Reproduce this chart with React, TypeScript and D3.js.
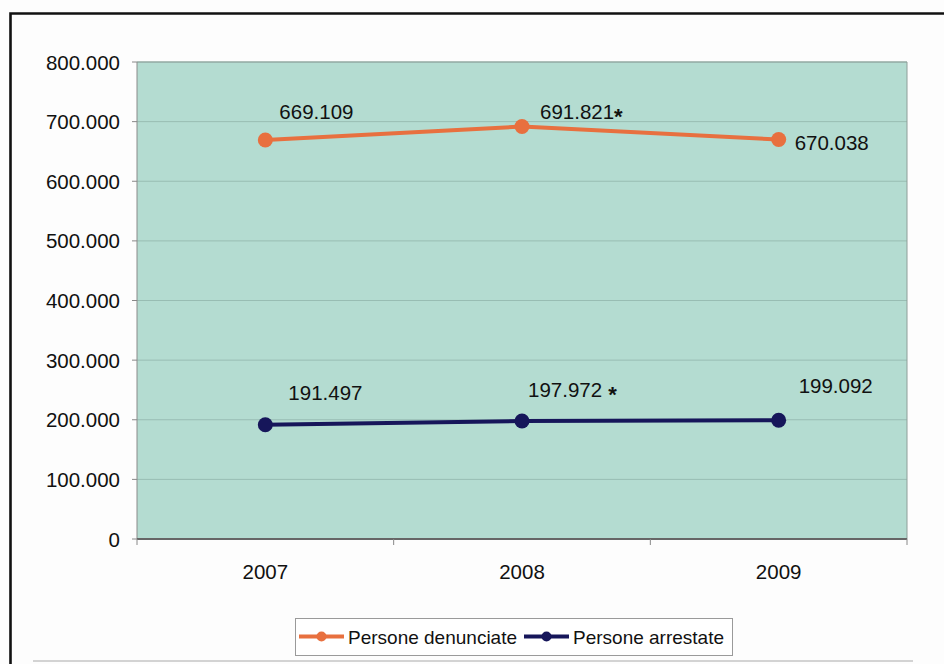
import React from "react";
import * as d3 from "d3";

// Categories and series
const years = ["2007", "2008", "2009"];
const denunciate = [669109, 691821, 670038];
const arrestate = [191497, 197972, 199092];
const yTicks = [0, 100000, 200000, 300000, 400000, 500000, 600000, 700000, 800000];
const seriesNames = ["Persone denunciate", "Persone arrestate"];
// footnote marks appended to the value labels
const denunciateMarks = ["", "*", ""];
const arrestateMarks = ["", " *", ""];

const W = 944;
const H = 664;
const plot = { left: 137, right: 907, top: 62, bottom: 539 };
const FONT = "'Liberation Sans', Arial, sans-serif";
const ORANGE = "#e8703f";
const NAVY = "#16165a";
const INK = "#111";

// label nudges (start x, baseline y) relative to each point
const denunciateNudge = [
  [14, -21],
  [18, -8],
  [16, 11],
];
const arrestateNudge = [
  [23, -25],
  [6, -24],
  [20, -27],
];

const itLocale = d3.formatLocale({
  decimal: ",",
  thousands: ".",
  grouping: [3],
  currency: ["€", ""],
});
const fmt = itLocale.format(",d");

export default function App() {
  const x = d3.scaleBand().domain(years).range([plot.left, plot.right]);
  const y = d3.scaleLinear().domain([0, 800000]).range([plot.bottom, plot.top]);
  const cx = (yr: string) => (x(yr) as number) + x.bandwidth() / 2;

  const line = d3
    .line<number>()
    .x((_, i) => cx(years[i]))
    .y((d) => y(d));

  const series = [
    { name: seriesNames[0], values: denunciate, color: ORANGE, nudge: denunciateNudge, marks: denunciateMarks },
    { name: seriesNames[1], values: arrestate, color: NAVY, nudge: arrestateNudge, marks: arrestateMarks },
  ];

  const boundaries = [...years.map((yr) => x(yr) as number), plot.right];

  return (
    <div style={{ position: "absolute", left: 0, top: 0 }}>
      <svg width={W} height={H} style={{ display: "block", background: "#fdfdfd" }} fontFamily={FONT}>
        {/* outer frame */}
        <path d={`M 950 13.5 H 10.5 V 670`} fill="none" stroke="#111" strokeWidth={2.6} />
        <line x1={33} x2={913} y1={661} y2={661} stroke="#c4c4c4" strokeWidth={1.5} />

        {/* plot area */}
        <rect
          x={plot.left}
          y={plot.top}
          width={plot.right - plot.left}
          height={plot.bottom - plot.top}
          fill="#b4dcd1"
        />
        {yTicks.slice(1).map((t) => (
          <line
            key={"g" + t}
            x1={plot.left}
            x2={plot.right}
            y1={y(t)}
            y2={y(t)}
            stroke="#98bdb3"
            strokeWidth={1}
          />
        ))}
        <line x1={plot.left} x2={plot.right} y1={plot.top} y2={plot.top} stroke="#8e9e99" strokeWidth={1} />
        <line x1={plot.right} x2={plot.right} y1={plot.top} y2={plot.bottom} stroke="#8e9e99" strokeWidth={1} />
        <line x1={plot.left} x2={plot.left} y1={plot.top} y2={plot.bottom} stroke="#8a8a8a" strokeWidth={1} />
        <line x1={plot.left} x2={plot.right} y1={plot.bottom} y2={plot.bottom} stroke="#666" strokeWidth={2} />

        {/* y axis */}
        {yTicks.map((t) => (
          <g key={"y" + t}>
            <line x1={plot.left - 5} x2={plot.left} y1={y(t)} y2={y(t)} stroke="#888" strokeWidth={1} />
            <text x={120} y={y(t) + 7.5} textAnchor="end" fontSize={20.5} fill={INK}>
              {fmt(t)}
            </text>
          </g>
        ))}

        {/* x axis */}
        {boundaries.map((b, i) => (
          <line key={"xt" + i} x1={b} x2={b} y1={plot.bottom} y2={plot.bottom + 6} stroke="#888" strokeWidth={1} />
        ))}
        {years.map((yr) => (
          <text key={"x" + yr} x={cx(yr)} y={579} textAnchor="middle" fontSize={20.5} fill={INK}>
            {yr}
          </text>
        ))}

        {/* series */}
        {series.map((s) => (
          <g key={s.name}>
            <path d={line(s.values) as string} fill="none" stroke={s.color} strokeWidth={4} />
            {s.values.map((v, i) => (
              <circle key={i} cx={cx(years[i])} cy={y(v)} r={7.5} fill={s.color} />
            ))}
            {s.values.map((v, i) => (
              <text
                key={"l" + i}
                x={cx(years[i]) + s.nudge[i][0]}
                y={y(v) + s.nudge[i][1]}
                fontSize={20.5}
                fill={INK}
              >
                {fmt(v)}
                {s.marks[i] ? (
                  <tspan dy={5} fontSize={22} fontWeight="bold">
                    {s.marks[i]}
                  </tspan>
                ) : null}
              </text>
            ))}
          </g>
        ))}

        {/* legend */}
        <rect x={295.5} y={618.5} width={437} height={37} fill="#fff" stroke="#9a9a9a" strokeWidth={1} />
        {series.map((s, i) => {
          const x0 = i === 0 ? 299 : 524;
          return (
            <g key={"lg" + i}>
              <line x1={x0} x2={x0 + 45} y1={636.5} y2={636.5} stroke={s.color} strokeWidth={4} />
              <circle cx={x0 + 22.5} cy={636.5} r={5} fill={s.color} />
              <text x={x0 + 49} y={643.5} fontSize={19} fill={INK}>
                {s.name}
              </text>
            </g>
          );
        })}
      </svg>
    </div>
  );
}
